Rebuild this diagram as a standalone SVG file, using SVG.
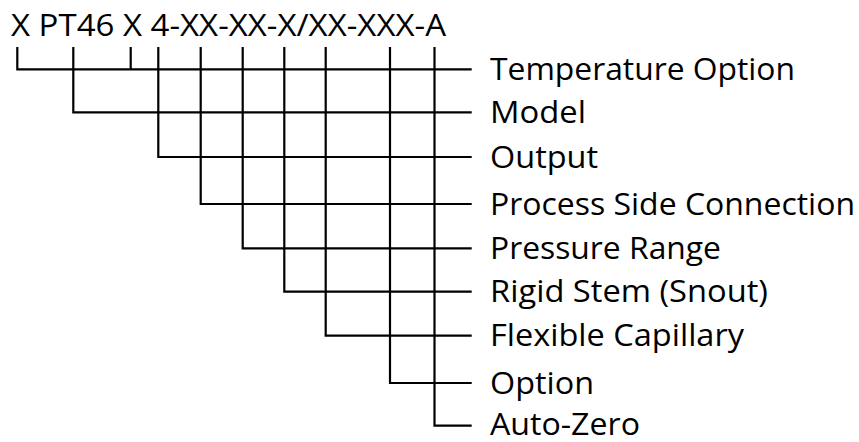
<svg xmlns="http://www.w3.org/2000/svg" width="859" height="442" viewBox="0 0 859 442">
  <style>
    .t { font-family: "Open Sans", "Noto Sans", "Liberation Sans", sans-serif; font-size: 31px; fill: #000; }
    .c { fill: none; stroke: #000; stroke-width: 2.2; stroke-linecap: butt; stroke-linejoin: miter; }
  </style>
  <rect width="859" height="442" fill="#fff"/>
  <g id="code">
    <text class="t" x="11" y="36" textLength="435" lengthAdjust="spacingAndGlyphs">X PT46 X 4-XX-XX-X/XX-XXX-A</text>
  </g>
  <g id="connectors" class="c">
    <polyline points="17.3,47 17.3,69.3 471.7,69.3"/>
    <line x1="130.7" y1="47" x2="130.7" y2="69.3"/>
    <polyline points="73.3,47 73.3,112.3 471.7,112.3"/>
    <polyline points="158.3,47 158.3,157 471.7,157"/>
    <polyline points="200.7,47 200.7,204 471.7,204"/>
    <polyline points="242.7,47 242.7,248.3 471.7,248.3"/>
    <polyline points="284.3,47 284.3,291.7 471.7,291.7"/>
    <polyline points="325.7,47 325.7,335.7 471.7,335.7"/>
    <polyline points="390,47 390,383 471.7,383"/>
    <polyline points="434.5,47 434.5,425.7 471.7,425.7"/>
  </g>
  <g id="n-temperature-option"><text class="t" x="490" y="80" textLength="305" lengthAdjust="spacingAndGlyphs">Temperature Option</text></g>
  <g id="n-model"><text class="t" x="490" y="123" textLength="96" lengthAdjust="spacingAndGlyphs">Model</text></g>
  <g id="n-output"><text class="t" x="490" y="167.7" textLength="108" lengthAdjust="spacingAndGlyphs">Output</text></g>
  <g id="n-process-side-connection"><text class="t" x="490" y="214.7" textLength="365" lengthAdjust="spacingAndGlyphs">Process Side Connection</text></g>
  <g id="n-pressure-range"><text class="t" x="490" y="259" textLength="231" lengthAdjust="spacingAndGlyphs">Pressure Range</text></g>
  <g id="n-rigid-stem"><text class="t" x="490" y="302.4" textLength="278" lengthAdjust="spacingAndGlyphs">Rigid Stem (Snout)</text></g>
  <g id="n-flexible-capillary"><text class="t" x="490" y="346.4" textLength="254" lengthAdjust="spacingAndGlyphs">Flexible Capillary</text></g>
  <g id="n-option"><text class="t" x="490" y="393.7" textLength="104" lengthAdjust="spacingAndGlyphs">Option</text></g>
  <g id="n-auto-zero"><text class="t" x="490" y="434.5" textLength="150" lengthAdjust="spacingAndGlyphs">Auto-Zero</text></g>
</svg>
